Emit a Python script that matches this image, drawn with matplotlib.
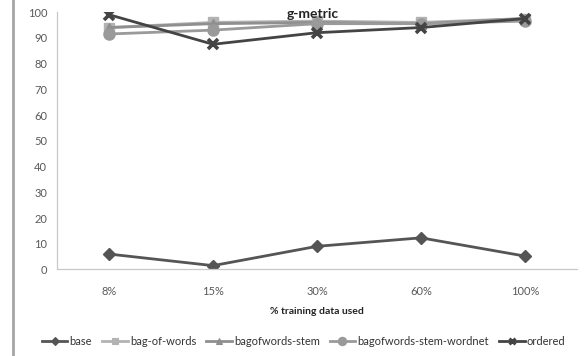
import matplotlib
matplotlib.use("Agg")
import matplotlib.pyplot as plt
from matplotlib.lines import Line2D

plt.rcParams['font.family'] = ['Lato', 'DejaVu Sans']

categories = ['8%', '15%', '30%', '60%', '100%']
base = [6, 1.5, 9, 12.3, 5.2]
bag_of_words = [94, 96, 96.5, 96, 97.5]
bagofwords_stem = [94, 95.5, 96, 95.5, 97.5]
bagofwords_stem_wordnet = [91.5, 93, 95.5, 95.5, 96.5]
ordered = [99, 87.5, 92, 94, 97.5]

series = [
    ('base', base, '#555555', 'D', 6, 1),
    ('bag-of-words', bag_of_words, '#b3b3b3', 's', 7, 1),
    ('bagofwords-stem', bagofwords_stem, '#8f8f8f', '^', 7, 1),
    ('bagofwords-stem-wordnet', bagofwords_stem_wordnet, '#9a9a9a', 'o', 8, 1),
    ('ordered', ordered, '#444444', 'x', 7, 2.6),
]

fig = plt.figure(figsize=(5.86, 3.56), dpi=100)
ax = fig.add_axes([0.0973, 0.243, 0.8873, 0.723])

x = range(len(categories))
for label, vals, color, marker, ms, mew in series:
    ax.plot(x, vals, color=color, lw=2, marker=marker, ms=ms,
            mew=mew, mec=color, mfc=color, label=label)

ax.set_xlim(-0.5, len(categories) - 0.5)
ax.set_ylim(0, 100)
ax.set_yticks(range(0, 101, 10))
ax.set_xticks(list(x))
ax.set_xticklabels(categories)
ax.tick_params(length=0, labelsize=8, colors='#595959', pad=7)
ax.tick_params(axis='x', pad=12)
for side in ('top', 'right'):
    ax.spines[side].set_visible(False)
for side in ('left', 'bottom'):
    ax.spines[side].set_color('#c8c8c8')
    ax.spines[side].set_linewidth(0.9)

fig.text(0.533, 0.961, 'g-metric', ha='center', va='center',
         fontsize=10, fontweight='bold', color='#222222')
fig.text(0.541, 0.126, '% training data used', ha='center', va='center',
         fontsize=7.5, fontweight='bold', color='#222222')

legend_ms = {'D': 4, 's': 5, '^': 5, 'o': 6, 'x': 5}
handles = [Line2D([], [], color=c, lw=2, marker=m, ms=legend_ms[m],
                  mew=mew * 0.8, mec=c, mfc=c)
           for _, _, c, m, ms, mew in series]
fig.legend(handles, [s[0] for s in series], loc='center',
           bbox_to_anchor=(0.518, 0.042), ncol=5, frameon=False,
           fontsize=8, handlelength=2.3, handletextpad=0.2,
           columnspacing=0.9, labelcolor='#333333')

# grey border line down the left edge
fig.add_artist(Line2D([0.022, 0.022], [0, 1], transform=fig.transFigure,
                      color='#a6a6a6', lw=2))

fig.savefig('out.png', dpi=100)
